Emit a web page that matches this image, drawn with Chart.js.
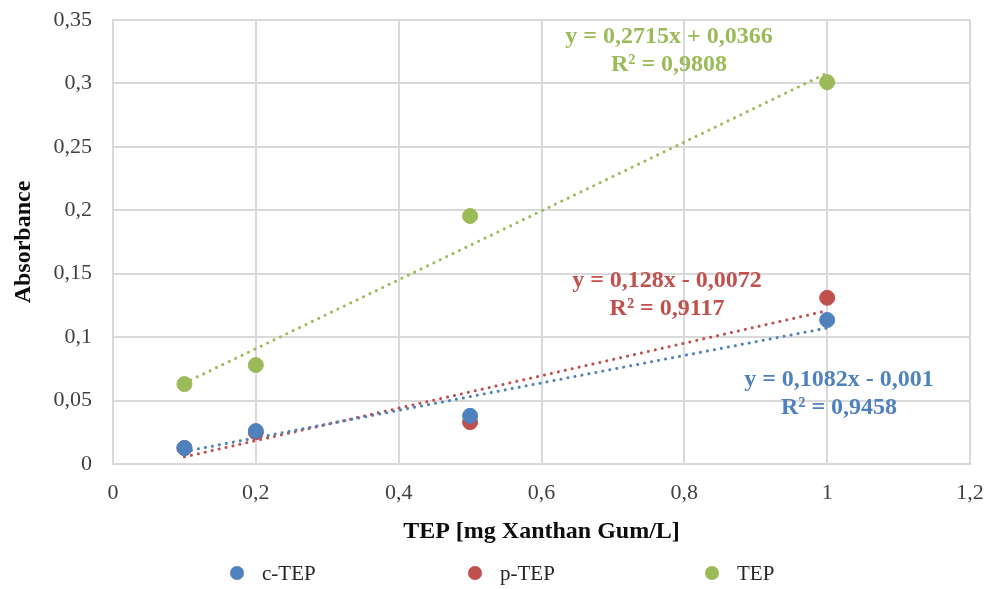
<!DOCTYPE html>
<html>
<head>
<meta charset="utf-8">
<script src="https://cdn.jsdelivr.net/npm/chart.js@4.4.0/dist/chart.umd.min.js"></script>
<style>
  html, body { margin: 0; padding: 0; background: #fff; }
  #wrap { width: 1004px; height: 589px; }
</style>
</head>
<body>
<div id="wrap"><canvas id="chart" width="1004" height="589"></canvas></div>
<script>
// values
var xVals = [0.1, 0.2, 0.5, 1];
var cTep = [0.0126, 0.026, 0.038, 0.1135];
var pTep = [0.0126, 0.025, 0.033, 0.131];
var tep = [0.063, 0.078, 0.1955, 0.301];
var seriesNames = ['c-TEP', 'p-TEP', 'TEP'];
var colors = ['#4F81BD', '#C0504D', '#9BBB59'];
// trendline equations as printed on the chart
var slopes = [0.1082, 0.128, 0.2715];
var intercepts = [-0.001, -0.0072, 0.0366];
var eqText = ['y = 0,1082x - 0,001', 'y = 0,128x - 0,0072', 'y = 0,2715x + 0,0366'];
var r2Text = ['R² = 0,9458', 'R² = 0,9117', 'R² = 0,9808'];

var FONT = "'Liberation Serif', 'Times New Roman', serif";

function pts(ys) {
    return xVals.map(function (x, i) { return {x: x, y: ys[i]}; });
}
function trend(k) {
    var x0 = xVals[0], x1 = xVals[xVals.length - 1];
    return [{x: x0, y: slopes[k] * x0 + intercepts[k]}, {x: x1, y: slopes[k] * x1 + intercepts[k]}];
}

var allSeries = [cTep, pTep, tep];
var datasets = [];
// trendlines first so dots sit on top
allSeries.forEach(function (s, k) {
    datasets.push({
        type: 'line',
        label: '',
        data: trend(k),
        borderColor: colors[k],
        borderWidth: 3,
        borderDash: [0.1, 7],
        borderCapStyle: 'round',
        pointRadius: 0,
        fill: false,
        order: 2
    });
});
allSeries.forEach(function (s, k) {
    datasets.push({
        type: 'scatter',
        label: seriesNames[k],
        data: pts(s),
        backgroundColor: colors[k],
        borderColor: colors[k],
        pointRadius: 7.5,
        pointHoverRadius: 7.5,
        order: 1
    });
});

var labelPos = [
    {x: 839, y: 380}, {x: 667, y: 281}, {x: 669, y: 37}
];

const extras = {
    id: 'extras',
    afterDraw: function (chart) {
        var c = chart.ctx;
        c.save();
        // trendline equations
        c.font = 'bold 24px ' + FONT;
        c.textAlign = 'center';
        c.textBaseline = 'middle';
        labelPos.forEach(function (p, k) {
            c.fillStyle = colors[k];
            c.fillText(eqText[k], p.x, p.y);
            c.fillText(r2Text[k], p.x, p.y + 28);
        });
        // legend
        var lx = [237, 475, 712];
        c.font = '21px ' + FONT;
        c.textAlign = 'left';
        seriesNames.forEach(function (n, k) {
            c.fillStyle = colors[k];
            c.beginPath();
            c.arc(lx[k], 573, 7, 0, Math.PI * 2);
            c.fill();
            c.fillStyle = '#262626';
            c.fillText(n, lx[k] + 25, 574);
        });
        c.restore();
    }
};

const ctx = document.getElementById('chart');
const chart = new Chart(ctx, {
    type: 'scatter',
    data: { datasets: datasets },
    options: {
        responsive: false,
        animation: false,
        layout: { padding: { left: 0, top: 20, right: 34, bottom: 0 } },
        plugins: {
            legend: { display: false },
            tooltip: { enabled: false }
        },
        scales: {
            x: {
                type: 'linear',
                min: 0,
                max: 1.2,
                ticks: {
                    stepSize: 0.2,
                    padding: 16,
                    color: '#404040',
                    font: { family: FONT, size: 22 },
                    callback: function (v) { return (Math.round(v * 10) / 10).toString().replace('.', ','); }
                },
                grid: { color: '#d9d9d9', lineWidth: 2, drawTicks: false },
                border: { color: '#d9d9d9', width: 2 },
                title: {
                    display: true,
                    text: 'TEP [mg Xanthan Gum/L]',
                    color: '#0d0d0d',
                    font: { family: FONT, size: 24, weight: 'bold' },
                    padding: { top: 0, bottom: 43 }
                },
                afterFit: function (s) { s.height = 125; }
            },
            y: {
                min: 0,
                max: 0.35,
                ticks: {
                    stepSize: 0.05,
                    padding: 0,
                    color: '#404040',
                    font: { family: FONT, size: 22 },
                    callback: function (v) { return (Math.round(v * 100) / 100).toString().replace('.', ','); }
                },
                grid: { color: '#d9d9d9', lineWidth: 2, drawTicks: true, tickLength: 21, tickColor: 'rgba(0,0,0,0)' },
                border: { color: '#d9d9d9', width: 2 },
                title: {
                    display: true,
                    text: 'Absorbance',
                    color: '#0d0d0d',
                    font: { family: FONT, size: 24, weight: 'bold' },
                    padding: { top: 9, bottom: 0 }
                },
                afterFit: function (s) { s.width = 113; }
            }
        }
    },
    plugins: [extras]
});
</script>
</body>
</html>
